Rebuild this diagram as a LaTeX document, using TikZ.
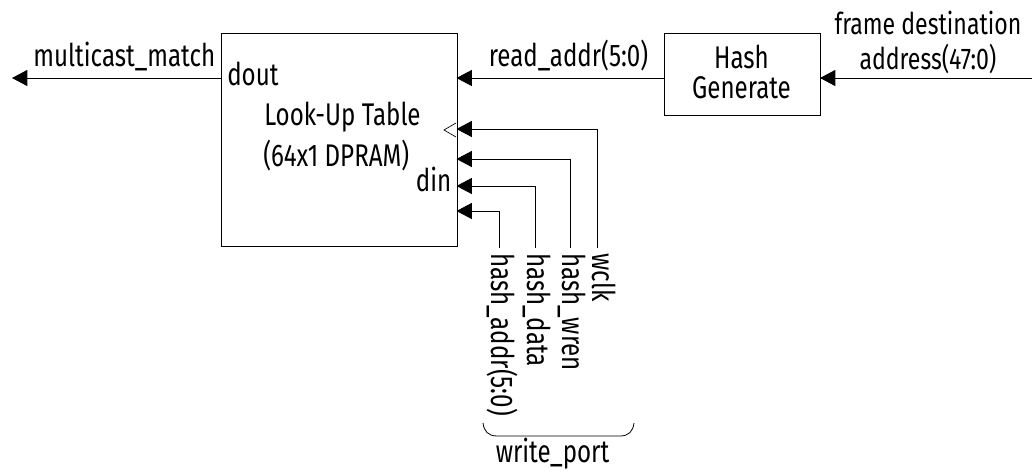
\documentclass[tikz,border=0pt]{standalone}
\usepackage{fontspec}
\setmainfont{Fira Sans}[FakeStretch=0.77]
\usetikzlibrary{arrows.meta}
\tikzset{x=0.75pt,y=-0.75pt,
 box/.style={draw,line width=0.75pt,inner sep=0pt,anchor=north west},
 lbl/.style={inner sep=0pt,font=\fontsize{23.5}{21}\selectfont},
 vlbl/.style={lbl,rotate=-90,anchor=base west},
 conn/.style={line width=0.75pt,-{Triangle[length=11.5pt,width=12pt]}}}
\begin{document}
\begin{tikzpicture}
\useasboundingbox (0,0) rectangle (1032,472);
\node[box,minimum width=177pt,minimum height=159.75pt] (lut) at (220.5,33) {};
\node[box,minimum width=117pt,minimum height=61.5pt] (hash) at (663.5,33) {};
\node[lbl,align=center] (hashtxt) at (741.5,72) {Hash\\[1pt]Generate};
% labels inside LUT
\node[lbl,anchor=base west] (dout) at (227,85) {dout};
\node[lbl,anchor=base west] (lutt) at (264,125) {Look-Up Table};
\node[lbl,anchor=base west] (lutm) at (263,166) {(64x1 DPRAM)};
\node[lbl,anchor=base east] (din) at (451.5,191) {din};
% outer labels
\node[lbl,anchor=base east] (mm) at (215.5,66) {multicast\_match};
\node[lbl,anchor=base] (ra) at (568.5,66) {read\_addr(5:0)};
\node[lbl,align=center,font=\fontsize{22.5}{21}\selectfont] (fda) at (928,42.5) {frame destination\\[5pt]address(47:0)};
% free ends
\coordinate (mmend) at (12,78);
\coordinate (fdaend) at (1032,78);
\coordinate (pinclk) at (456.5,129);
\coordinate (pinwren) at (456.5,159);
\coordinate (pindata) at (456.5,186);
\coordinate (pinaddr) at (456.5,211);
\coordinate (lutleft) at (220.5,78);
\coordinate (lutright) at (456.5,78);
\coordinate (hashleft) at (663.5,78);
\coordinate (hashright) at (820,78);
\draw[conn] (lutleft) -- (mmend);
\draw[conn] (hashleft) -- (lutright);
\draw[conn] (fdaend) -- (hashright);
% vertical labels
\node[vlbl] (wclk) at (592,253) {wclk};
\node[vlbl] (wren) at (562,253) {hash\_wren};
\node[vlbl] (data) at (527.5,253) {hash\_data};
\node[vlbl] (addr) at (491.5,253) {hash\_addr(5:0)};
\coordinate (wclktop) at (597.5,248);
\coordinate (wrentop) at (570.7,248);
\coordinate (datatop) at (535.2,248);
\coordinate (addrtop) at (499.5,248);
\draw[conn] (wclktop) |- (pinclk);
\draw[conn] (wrentop) |- (pinwren);
\draw[conn] (datatop) |- (pindata);
\draw[conn] (addrtop) |- (pinaddr);
% clock triangle
\coordinate (clka) at (456,123);
\coordinate (clkb) at (444,130);
\coordinate (clkc) at (456,137);
\draw[line width=0.5pt] (clka) -- (clkb) -- (clkc);
% brace
\coordinate (bl) at (483,423);
\coordinate (br) at (634,423);
\draw[line width=0.6pt] (bl) .. controls (484,431) and (488,436) .. (497,436) -- (620,436) .. controls (629,436) and (633,431) .. (br);
\node[lbl,anchor=base] (wp) at (552.5,462) {write\_port};
\end{tikzpicture}
\end{document}
